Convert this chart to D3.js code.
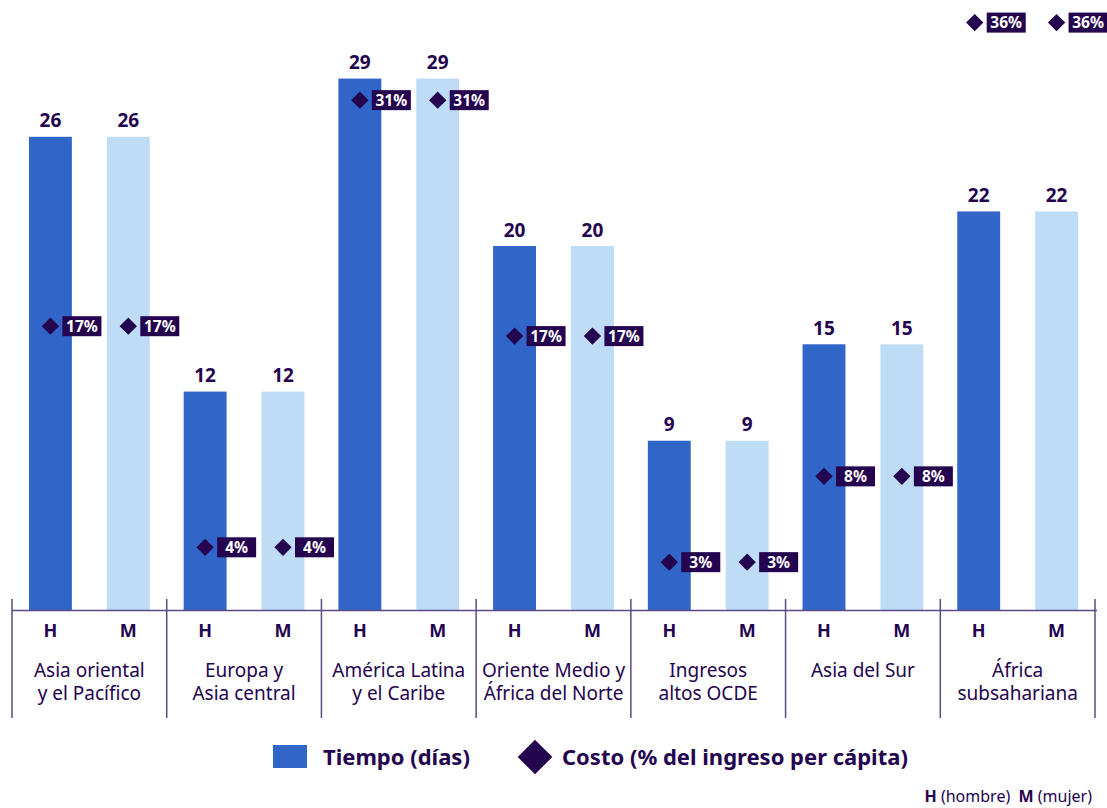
<!DOCTYPE html>
<html>
<head>
<meta charset="utf-8">
<script src="https://cdn.jsdelivr.net/npm/d3@7"></script>
<style>
  body { margin: 0; background: #fff; }
  svg { font-family: 'Noto Sans', sans-serif; }
</style>
</head>
<body>
<svg id="chart" width="1107" height="808"></svg>
<script>
// Data
const categories = [
  ['Asia oriental', 'y el Pacífico'],
  ['Europa y', 'Asia central'],
  ['América Latina', 'y el Caribe'],
  ['Oriente Medio y', 'África del Norte'],
  ['Ingresos', 'altos OCDE'],
  ['Asia del Sur'],
  ['África', 'subsahariana']
];
const sexes = ['H', 'M'];
const tiempoH = [26.0, 12.0, 29.2, 20.0, 9.3, 14.6, 21.9];
const tiempoM = [26.0, 12.0, 29.2, 20.0, 9.3, 14.6, 21.9];
const costoH = [17.2, 3.8, 30.9, 16.6, 2.9, 8.1, 35.6];
const costoM = [17.2, 3.8, 30.9, 16.6, 2.9, 8.1, 35.6];

const dark = '#24034f';
const axisColor = '#5b4a86';
const colH = '#3265c8';
const colM = '#bfdcf7';

const svg = d3.select('#chart');
const baseY = 610;

const x0 = d3.scaleBand()
  .domain(d3.range(categories.length))
  .range([12, 1095])
  .padding(0);

const x1 = d3.scaleBand()
  .domain(sexes)
  .range([0, x0.bandwidth()])
  .paddingInner(0.449)
  .paddingOuter(0.218);

const yDays = d3.scaleLinear().domain([0, 30]).range([baseY, baseY - 30 * 18.2]);
const yCost = d3.scaleLinear().domain([0, 36]).range([baseY, baseY - 36 * 16.5]);

const rows = [];
categories.forEach((c, i) => {
  rows.push({ g: i, s: 'H', t: tiempoH[i], c: costoH[i] });
  rows.push({ g: i, s: 'M', t: tiempoM[i], c: costoM[i] });
});
const cx = d => x0(d.g) + x1(d.s) + x1.bandwidth() / 2;

// bars
svg.append('g').selectAll('rect')
  .data(rows)
  .join('rect')
  .attr('x', d => x0(d.g) + x1(d.s))
  .attr('y', d => yDays(d.t))
  .attr('width', x1.bandwidth())
  .attr('height', d => baseY - yDays(d.t))
  .attr('fill', d => d.s === 'H' ? colH : colM);

// bar value labels
svg.append('g').selectAll('text')
  .data(rows)
  .join('text')
  .attr('x', cx)
  .attr('y', d => yDays(d.t) - 9.5)
  .attr('text-anchor', 'middle')
  .attr('font-size', 19)
  .attr('font-weight', 700)
  .attr('fill', dark)
  .text(d => Math.round(d.t));

// cost diamonds with boxed labels
const costG = svg.append('g').selectAll('g')
  .data(rows)
  .join('g')
  .attr('transform', d => `translate(${cx(d) - (d.c > 33 && d.s === 'H' ? 4 : 0)},${yCost(d.c)})`);

costG.append('path')
  .attr('d', d3.symbol().type(d3.symbolSquare).size(150)())
  .attr('transform', 'rotate(45)')
  .attr('fill', dark);

costG.append('rect')
  .attr('x', 12)
  .attr('y', -10)
  .attr('width', 39)
  .attr('height', 20)
  .attr('fill', dark);

costG.append('text')
  .attr('x', 31.5)
  .attr('y', 5.5)
  .attr('text-anchor', 'middle')
  .attr('font-size', 15.5)
  .attr('font-weight', 700)
  .attr('fill', '#fff')
  .text(d => Math.round(d.c) + '%');

// axis baseline
svg.append('line')
  .attr('x1', 12).attr('x2', 1097)
  .attr('y1', baseY + 0.5).attr('y2', baseY + 0.5)
  .attr('stroke', axisColor).attr('stroke-width', 1.5);

// group separators
const seps = d3.range(categories.length + 1).map(i => i < categories.length ? x0(i) : x0.range()[1]);
svg.append('g').selectAll('line')
  .data(seps)
  .join('line')
  .attr('x1', d => d).attr('x2', d => d)
  .attr('y1', 599).attr('y2', 718)
  .attr('stroke', axisColor).attr('stroke-width', 1.5);

// H / M labels
svg.append('g').selectAll('text')
  .data(rows)
  .join('text')
  .attr('x', cx)
  .attr('y', 637)
  .attr('text-anchor', 'middle')
  .attr('font-size', 18)
  .attr('font-weight', 700)
  .attr('fill', dark)
  .text(d => d.s);

// category labels (one text per line)
const catLines = [];
categories.forEach((c, i) => c.forEach((line, j) => catLines.push({ g: i, j: j, line: line })));
svg.append('g').selectAll('text')
  .data(catLines)
  .join('text')
  .attr('x', d => x0(d.g) + x0.bandwidth() / 2)
  .attr('y', d => 677 + d.j * 23)
  .attr('text-anchor', 'middle')
  .attr('font-size', 19)
  .attr('fill', dark)
  .text(d => d.line);

// legend
const leg = svg.append('g');
leg.append('rect')
  .attr('x', 273).attr('y', 745)
  .attr('width', 34).attr('height', 23)
  .attr('fill', colH);
leg.append('text')
  .attr('x', 323).attr('y', 765)
  .attr('font-size', 22).attr('font-weight', 700)
  .attr('fill', dark)
  .text('Tiempo (días)');
leg.append('path')
  .attr('d', d3.symbol().type(d3.symbolSquare).size(600)())
  .attr('transform', 'translate(535,757) rotate(45)')
  .attr('fill', dark);
leg.append('text')
  .attr('x', 562).attr('y', 765)
  .attr('font-size', 22).attr('font-weight', 700)
  .attr('fill', dark)
  .text('Costo (% del ingreso per cápita)');

// footnote
const foot = svg.append('text')
  .attr('x', 1092).attr('y', 802)
  .attr('text-anchor', 'end')
  .attr('font-size', 16)
  .attr('fill', dark)
  .style('white-space', 'pre');
foot.append('tspan').attr('font-weight', 700).text('H');
foot.append('tspan').text(' (hombre)  ');
foot.append('tspan').attr('font-weight', 700).text('M');
foot.append('tspan').text(' (mujer)');
</script>
</body>
</html>
